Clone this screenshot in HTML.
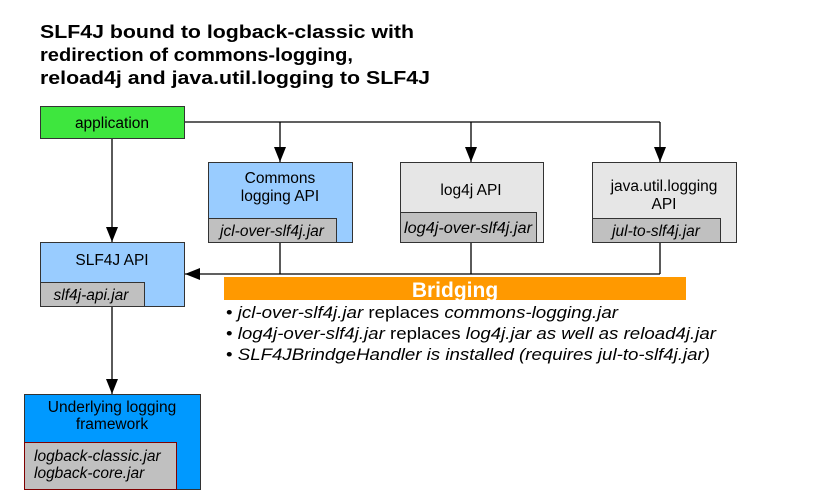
<!DOCTYPE html>
<html><head><meta charset="utf-8"><style>
html,body{margin:0;padding:0;background:#fff;}
svg{display:block;font-family:"Liberation Sans",Arial,sans-serif;}
</style></head><body>
<svg width="822" height="496" viewBox="0 0 822 496" xmlns="http://www.w3.org/2000/svg">
<defs>
<marker id="ah" markerWidth="16" markerHeight="14" refX="15" refY="6" orient="auto" markerUnits="userSpaceOnUse">
<path d="M0,0 L15,6 L0,12 Z" fill="#000"/>
</marker>
</defs>
<g font-weight="bold" font-size="18.5" fill="#000">
<text x="40" y="38" textLength="374" lengthAdjust="spacingAndGlyphs">SLF4J bound to logback-classic with</text>
<text x="40" y="61" textLength="313" lengthAdjust="spacingAndGlyphs">redirection of commons-logging,</text>
<text x="40" y="84" textLength="390" lengthAdjust="spacingAndGlyphs">reload4j and java.util.logging to SLF4J</text>
</g>

<g stroke="#000" stroke-width="1.3" fill="none">
<line x1="184" y1="122" x2="660" y2="122"/>
<line x1="280" y1="122" x2="280" y2="162" marker-end="url(#ah)"/>
<line x1="471" y1="122" x2="471" y2="162" marker-end="url(#ah)"/>
<line x1="660" y1="122" x2="660" y2="162" marker-end="url(#ah)"/>
<line x1="112" y1="138" x2="112" y2="242" marker-end="url(#ah)"/>
<line x1="280" y1="242" x2="280" y2="274"/>
<line x1="471" y1="242" x2="471" y2="274"/>
<line x1="660" y1="242" x2="660" y2="274"/>
<line x1="660" y1="274" x2="185" y2="274" marker-end="url(#ah)"/>
<line x1="112" y1="306" x2="112" y2="394" marker-end="url(#ah)"/>
</g>

<g font-size="15.5">
<rect x="40.5" y="106.5" width="144" height="32" fill="#3ee63e" stroke="#333"/>
<text x="112" y="128" text-anchor="middle">application</text>

<rect x="208.5" y="162.5" width="144" height="80" fill="#99ccff" stroke="#333"/>
<text x="280" y="183" text-anchor="middle">Commons</text>
<text x="280" y="201" text-anchor="middle">logging API</text>
<rect x="208.5" y="218.5" width="128" height="24" fill="#c0c0c0" stroke="#333"/>
<text x="272" y="236" font-style="italic" text-anchor="middle">jcl-over-slf4j.jar</text>

<rect x="400.5" y="162.5" width="143" height="80" fill="#e6e6e6" stroke="#333"/>
<text x="471" y="195" text-anchor="middle">log4j API</text>
<rect x="400.5" y="212.5" width="136" height="30" fill="#c0c0c0" stroke="#333"/>
<text x="468" y="233" font-style="italic" text-anchor="middle" textLength="128" lengthAdjust="spacingAndGlyphs">log4j-over-slf4j.jar</text>

<rect x="592.5" y="162.5" width="144" height="80" fill="#e6e6e6" stroke="#333"/>
<text x="664" y="191" text-anchor="middle">java.util.logging</text>
<text x="664" y="209" text-anchor="middle">API</text>
<rect x="592.5" y="218.5" width="128" height="24" fill="#c0c0c0" stroke="#333"/>
<text x="656" y="236" font-style="italic" text-anchor="middle">jul-to-slf4j.jar</text>

<rect x="40.5" y="242.5" width="144" height="64" fill="#99ccff" stroke="#333"/>
<text x="112" y="265" text-anchor="middle">SLF4J API</text>
<rect x="40.5" y="282.5" width="104" height="24" fill="#c0c0c0" stroke="#333"/>
<text x="91" y="300" font-style="italic" text-anchor="middle">slf4j-api.jar</text>

<rect x="24.5" y="394.5" width="176" height="95" fill="#0099ff" stroke="#333"/>
<text x="112" y="412" text-anchor="middle">Underlying logging</text>
<text x="112" y="429" text-anchor="middle">framework</text>
<rect x="24.5" y="442.5" width="152" height="47" fill="#c0c0c0" stroke="#800000"/>
<text x="34" y="461" font-style="italic">logback-classic.jar</text>
<text x="34" y="478" font-style="italic">logback-core.jar</text>
</g>

<rect x="224" y="277" width="462" height="23" fill="#ff9900"/>
<text x="455" y="297" font-size="21" font-weight="bold" fill="#fff" text-anchor="middle">Bridging</text>
<g font-size="16.5">
<text x="226" y="318" textLength="392" lengthAdjust="spacingAndGlyphs">• <tspan font-style="italic">jcl-over-slf4j.jar</tspan> replaces <tspan font-style="italic">commons-logging.jar</tspan></text>
<text x="226" y="339" textLength="490" lengthAdjust="spacingAndGlyphs">• <tspan font-style="italic">log4j-over-slf4j.jar</tspan> replaces <tspan font-style="italic">log4j.jar as well as reload4j.jar</tspan></text>
<text x="226" y="360" font-style="italic" textLength="484" lengthAdjust="spacingAndGlyphs"><tspan font-style="normal">• </tspan>SLF4JBrindgeHandler is installed (requires jul-to-slf4j.jar)</text>
</g>
</svg>
</body></html>
